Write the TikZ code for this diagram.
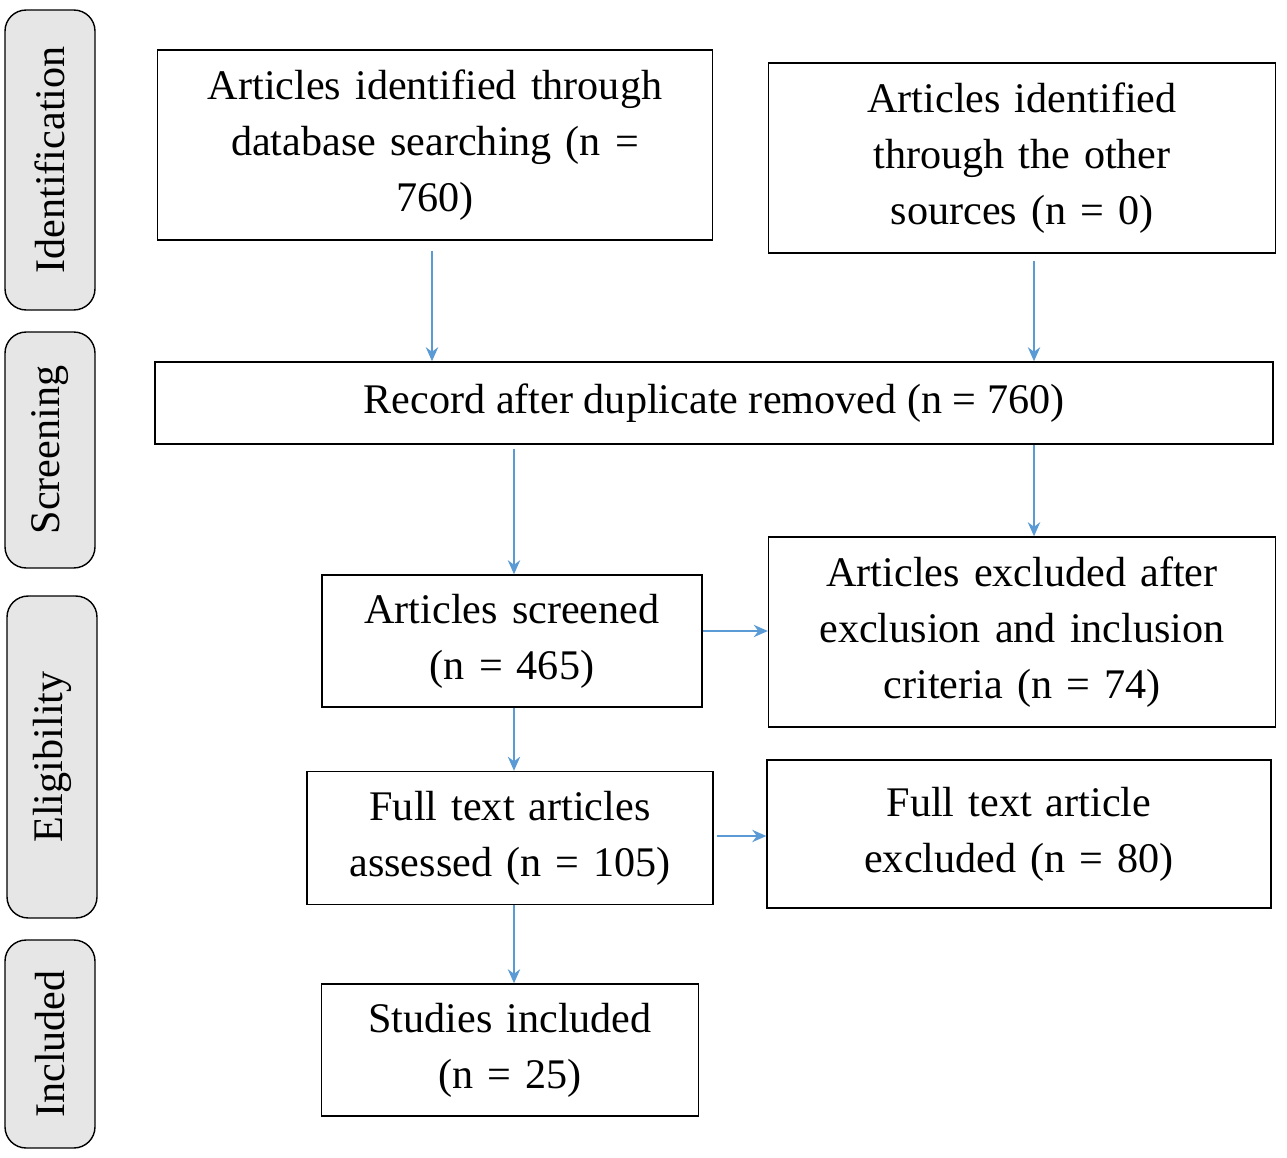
\documentclass[tikz,border=0pt]{standalone}
\usepackage{fontspec}
\setmainfont{Liberation Serif}
\usetikzlibrary{arrows.meta}
\definecolor{arrowblue}{HTML}{5B9BD5}
\definecolor{phasegray}{HTML}{E6E6E6}
\tikzset{
  flowbox/.style={draw, thick, align=center, inner sep=2pt, font=\fontsize{24}{32}\selectfont},
  phasebox/.style={draw, thick, fill=phasegray, rounded corners=12pt, rotate=90, align=center, inner sep=0pt, font=\fontsize{24}{30}\selectfont},
  flowarrow/.style={arrowblue, very thick, -{Stealth[length=8pt,width=7pt]}}
}
\begin{document}
\begin{tikzpicture}[x=0.02cm, y=-0.02cm]
\useasboundingbox (0,0) rectangle (1287,1158);
% Phase labels
\node[phasebox, minimum width=300\pgflinewidth*0+6cm, minimum height=1.8cm] (pid) at (50,160) {Identification};
\node[phasebox, minimum width=4.72cm, minimum height=1.8cm] (pscr) at (50,450) {Screening};
\node[phasebox, minimum width=6.44cm, minimum height=1.8cm] (pelig) at (52,757) {Eligibility};
\node[phasebox, minimum width=4.16cm, minimum height=1.8cm] (pinc) at (50,1044) {Included};

% Boxes
\node[flowbox, minimum width=11.1cm, minimum height=3.8cm, text width=10.8cm] (dbase) at (435,145) {Articles identified through\\ database searching (n =\\ 760)};
\node[flowbox, minimum width=10.14cm, minimum height=3.8cm, text width=9.8cm] (other) at (1022,158) {Articles identified\\ through the other\\ sources (n = 0)};
\node[flowbox, minimum width=22.36cm, minimum height=1.64cm] (record) at (714,403) {Record after duplicate removed (n = 760)};
\node[flowbox, minimum width=7.6cm, minimum height=2.64cm, text width=7.4cm] (screened) at (512,641) {Articles screened\\ (n = 465)};
\node[flowbox, minimum width=10.14cm, minimum height=3.8cm, text width=9.9cm] (excl) at (1022,632) {Articles excluded after\\ exclusion and inclusion\\ criteria (n = 74)};
\node[flowbox, minimum width=8.12cm, minimum height=2.66cm, text width=7.9cm] (fulltext) at (510,838) {Full text articles\\ assessed (n = 105)};
\node[flowbox, minimum width=10.08cm, minimum height=2.96cm, text width=9.8cm] (ftexcl) at (1019,834) {Full text article\\ excluded (n = 80)};
\node[flowbox, minimum width=7.54cm, minimum height=2.64cm, text width=7.3cm] (studies) at (510,1050) {Studies included\\ (n = 25)};

% Arrows
\draw[flowarrow, shorten <=10pt*0+0.2cm] (dbase.south -| 432,0) -- (record.north -| 432,0);
\draw[flowarrow, shorten <=0.14cm] (other.south -| 1034,0) -- (record.north -| 1034,0);
\draw[flowarrow, shorten <=0.08cm] (record.south -| 514,0) -- (screened.north -| 514,0);
\draw[flowarrow] (record.south -| 1034,0) -- (excl.north -| 1034,0);
\draw[flowarrow] (screened.east |- 0,631) -- (excl.west |- 0,631);
\draw[flowarrow] (screened.south -| 514,0) -- (fulltext.north -| 514,0);
\draw[flowarrow, shorten <=0.06cm] (fulltext.east |- 0,836) -- (ftexcl.west |- 0,836);
\draw[flowarrow] (fulltext.south -| 514,0) -- (studies.north -| 514,0);
\end{tikzpicture}
\end{document}
